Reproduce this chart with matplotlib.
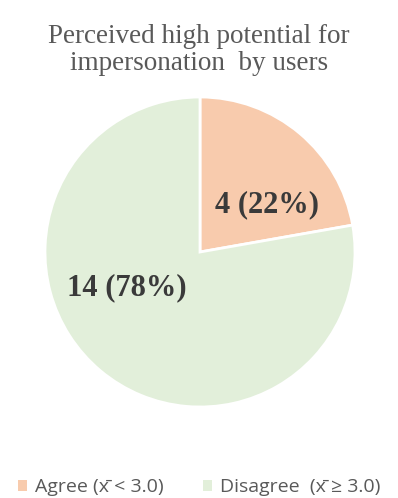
import matplotlib.pyplot as plt
from matplotlib.patches import Patch

labels = ['Agree (x\u0304 < 3.0)', 'Disagree  (x\u0304 \u2265 3.0)']
counts = [4, 14]
colors = ['#F8CBAD', '#E2EFDA']
title = 'Perceived high potential for\nimpersonation  by users'

W, H = 398, 498
fig = plt.figure(figsize=(W / 100, H / 100), dpi=100)
ax = fig.add_axes([0, 0, 1, 1])

# pie centre (200, 252) px, radius 155 px
r = 155.0
cx, cy = 200.0, 252.0
total = sum(counts)
wedges, _ = ax.pie(counts, colors=colors, startangle=90, counterclock=False,
                   radius=1.0, wedgeprops=dict(edgecolor='white', linewidth=2))
ax.set_xlim(-cx / r, (W - cx) / r)
ax.set_ylim(-(H - cy) / r, cy / r)
ax.set_aspect('auto')
ax.axis('off')

serif = ['Liberation Serif', 'DejaVu Serif']
# label positions (relative to pie radius)
lab_pos = [(0.435, 0.303), (-0.474, -0.232)]
for c, (x, y) in zip(counts, lab_pos):
    ax.text(x, y, f'{c} ({round(100 * c / total)}%)', ha='center', va='center',
            family=serif, fontsize=22, fontweight='bold', color='#3A3A3A')

fig.text(0.5, 0.9, title, ha='center', va='center', family=serif,
         fontsize=19.5, color='#595959', linespacing=1.1)

handles = [Patch(facecolor=c, edgecolor='none') for c in colors]
fig.legend(handles, labels, loc='center', bbox_to_anchor=(0.5, 1 - 487 / H), ncol=2,
           frameon=False, handlelength=0.5, handleheight=0.5, handletextpad=0.4,
           columnspacing=2.0, prop=dict(family='Open Sans', size=14),
           labelcolor='#595959', borderaxespad=0, borderpad=0)

fig.savefig('out.png', dpi=100, facecolor='white')
